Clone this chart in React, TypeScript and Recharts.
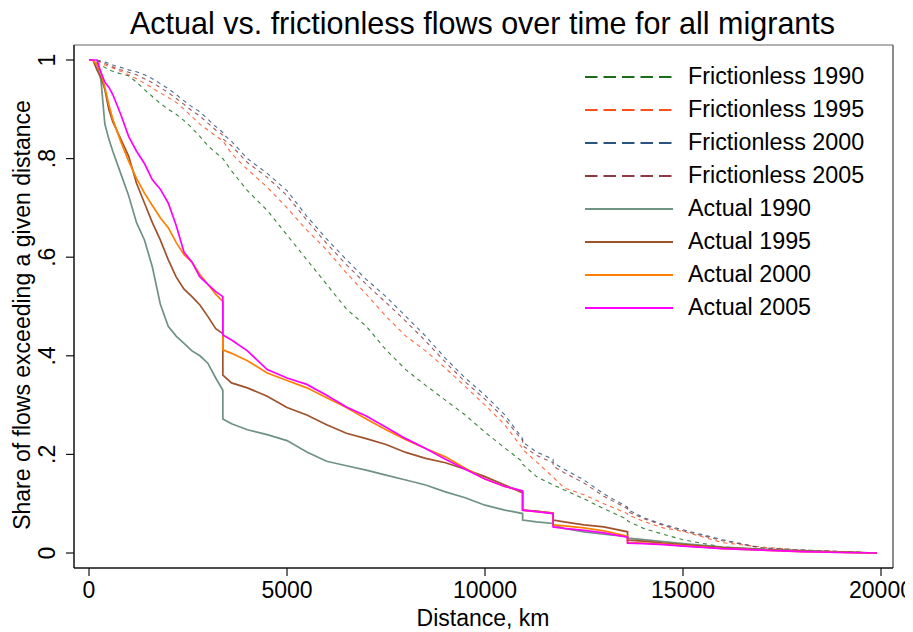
import React from "react";
import { LineChart, Line, XAxis, YAxis, ReferenceLine } from "recharts";

// distances (km); repeated entries mark vertical drops in the step curves
const distances = [
  0, 100, 200, 300, 400, 500, 600, 800, 1000, 1200, 1400, 1600, 1800, 2000,
  2200, 2400, 2600, 2800, 3000, 3200, 3380, 3380, 3600, 4000, 4500, 5000,
  5500, 6000, 6500, 7000, 7500, 8000, 8500, 9000, 9500, 10000, 10500, 10950,
  10950, 11300, 11720, 11720, 12000, 12500, 13000, 13600, 13600, 14000,
  14500, 15000, 16000, 17000, 18000, 19000, 19900,
];

const frictionless1990 = [
  1.0, 1.0, 0.995, 0.99, 0.985, 0.98, 0.977, 0.972, 0.968, 0.955, 0.94,
  0.926, 0.912, 0.9, 0.89, 0.877, 0.862, 0.845, 0.826, 0.812, 0.8, 0.8,
  0.775, 0.735, 0.695, 0.645, 0.595, 0.545, 0.495, 0.46, 0.412, 0.372, 0.34,
  0.31, 0.28, 0.245, 0.213, 0.185, 0.18, 0.155, 0.138, 0.138, 0.128, 0.11,
  0.09, 0.068, 0.065, 0.05, 0.038, 0.027, 0.012, 0.007, 0.004, 0.002, 0.0,
];
const frictionless1995 = [
  1.0, 1.0, 0.998, 0.995, 0.99, 0.987, 0.984, 0.977, 0.97, 0.962, 0.953,
  0.943, 0.933, 0.924, 0.914, 0.9, 0.885, 0.87, 0.858, 0.846, 0.836, 0.836,
  0.81, 0.778, 0.742, 0.7, 0.655, 0.615, 0.568, 0.525, 0.48, 0.44, 0.41,
  0.375, 0.338, 0.3, 0.26, 0.212, 0.21, 0.185, 0.154, 0.154, 0.132, 0.118,
  0.1, 0.08, 0.078, 0.064, 0.051, 0.044, 0.021, 0.012, 0.006, 0.003, 0.0,
];
const frictionless2000 = [
  1.0, 1.0, 1.0, 0.998, 0.996, 0.993, 0.99, 0.985, 0.98, 0.976, 0.97, 0.962,
  0.952, 0.942, 0.93, 0.917, 0.905, 0.895, 0.88, 0.865, 0.853, 0.85, 0.835,
  0.8, 0.77, 0.735, 0.683, 0.637, 0.595, 0.555, 0.52, 0.48, 0.44, 0.395,
  0.355, 0.32, 0.28, 0.232, 0.225, 0.205, 0.19, 0.183, 0.17, 0.148, 0.12,
  0.093, 0.088, 0.072, 0.058, 0.047, 0.027, 0.01, 0.006, 0.003, 0.0,
];
const frictionless2005 = [
  1.0, 1.0, 0.999, 0.996, 0.993, 0.99, 0.986, 0.98, 0.975, 0.97, 0.962,
  0.954, 0.944, 0.934, 0.922, 0.91, 0.897, 0.886, 0.872, 0.858, 0.848, 0.84,
  0.826, 0.792, 0.762, 0.725, 0.675, 0.628, 0.585, 0.545, 0.508, 0.47, 0.43,
  0.387, 0.347, 0.312, 0.272, 0.228, 0.218, 0.198, 0.183, 0.176, 0.163,
  0.142, 0.115, 0.09, 0.084, 0.07, 0.056, 0.045, 0.025, 0.01, 0.006, 0.003,
  0.0,
];
const actual1990 = [
  1.0, 1.0, 0.99, 0.96, 0.87, 0.84, 0.815, 0.77, 0.725, 0.67, 0.635, 0.58,
  0.505, 0.46, 0.44, 0.425, 0.41, 0.4, 0.385, 0.355, 0.33, 0.272, 0.262,
  0.25, 0.24, 0.228, 0.205, 0.186, 0.177, 0.168, 0.158, 0.148, 0.138, 0.124,
  0.112, 0.097, 0.087, 0.08, 0.067, 0.063, 0.06, 0.057, 0.05, 0.043, 0.038,
  0.033, 0.03, 0.027, 0.023, 0.019, 0.012, 0.008, 0.005, 0.002, 0.0,
];
const actual1995 = [
  1.0, 1.0, 0.98, 0.965, 0.94, 0.9, 0.875, 0.84, 0.805, 0.75, 0.71, 0.67,
  0.635, 0.595, 0.56, 0.535, 0.52, 0.503, 0.48, 0.455, 0.445, 0.361, 0.345,
  0.335, 0.318, 0.295, 0.28, 0.26, 0.243, 0.232, 0.22, 0.204, 0.192, 0.183,
  0.17, 0.155, 0.138, 0.122, 0.087, 0.085, 0.081, 0.067, 0.063, 0.057, 0.053,
  0.043, 0.026, 0.024, 0.02, 0.017, 0.011, 0.007, 0.004, 0.002, 0.0,
];
const actual2000 = [
  1.0, 1.0, 0.99, 0.975, 0.945, 0.91, 0.88, 0.835, 0.795, 0.76, 0.73, 0.705,
  0.68, 0.66, 0.63, 0.605, 0.59, 0.565, 0.545, 0.525, 0.51, 0.412, 0.405,
  0.39, 0.365, 0.35, 0.335, 0.315, 0.295, 0.272, 0.25, 0.23, 0.212, 0.195,
  0.172, 0.15, 0.135, 0.126, 0.087, 0.084, 0.081, 0.057, 0.055, 0.051, 0.045,
  0.034, 0.021, 0.02, 0.018, 0.015, 0.009, 0.006, 0.003, 0.001, 0.0,
];
const actual2005 = [
  1.0, 1.0, 1.0, 0.975, 0.955, 0.945, 0.93, 0.89, 0.845, 0.815, 0.79, 0.757,
  0.738, 0.71, 0.665, 0.61, 0.59, 0.56, 0.545, 0.53, 0.52, 0.442, 0.432, 0.41,
  0.372, 0.355, 0.342, 0.32, 0.296, 0.278, 0.255, 0.232, 0.212, 0.19, 0.17,
  0.15, 0.135, 0.126, 0.087, 0.084, 0.08, 0.053, 0.05, 0.046, 0.041, 0.032,
  0.02, 0.019, 0.017, 0.014, 0.009, 0.006, 0.003, 0.001, 0.0,
];

const xTicks = [0, 5000, 10000, 15000, 20000];
const yTicks = [0, 0.2, 0.4, 0.6, 0.8, 1];

const series = [
  { key: "f1990", name: "Frictionless 1990", values: frictionless1990, color: "#1a6e1a", dashed: true },
  { key: "f1995", name: "Frictionless 1995", values: frictionless1995, color: "#ff4f1a", dashed: true },
  { key: "f2000", name: "Frictionless 2000", values: frictionless2000, color: "#2a5580", dashed: true },
  { key: "f2005", name: "Frictionless 2005", values: frictionless2005, color: "#8e3a40", dashed: true },
  { key: "a1990", name: "Actual 1990", values: actual1990, color: "#6f9283", dashed: false },
  { key: "a1995", name: "Actual 1995", values: actual1995, color: "#a0522d", dashed: false },
  { key: "a2000", name: "Actual 2000", values: actual2000, color: "#ff8000", dashed: false },
  { key: "a2005", name: "Actual 2005", values: actual2005, color: "#ff00ff", dashed: false },
];

const data = distances.map((d, i) => {
  const row: Record<string, number> = { d };
  series.forEach((s) => {
    row[s.key] = s.values[i];
  });
  return row;
});

const FONT = "'Liberation Sans', Arial, Helvetica, sans-serif";

const fmtY = (v: number) => {
  if (v === 0) return "0";
  if (v === 1) return "1";
  return v.toFixed(1).replace(/^0/, "");
};

const XTick = ({ x, y, payload }: any) => (
  <text x={x} y={y} dy={22} textAnchor="middle" fontSize={23} fill="#000" fontFamily={FONT}>
    {payload.value}
  </text>
);

const YTick = ({ x, y, payload }: any) => {
  const bx = x - 11;
  return (
    <text
      x={bx}
      y={y}
      transform={`rotate(-90, ${bx}, ${y})`}
      textAnchor="middle"
      fontSize={23}
      fill="#000"
      fontFamily={FONT}
    >
      {fmtY(payload.value)}
    </text>
  );
};

export default function App() {
  const W = 905;
  const H = 624;
  return (
    <div style={{ position: "relative", width: W, height: H, background: "#fff", fontFamily: FONT }}>
      <div
        style={{
          position: "absolute",
          top: 0,
          left: 0,
          width: W,
          textAlign: "center",
          fontSize: 30.5,
          lineHeight: "30px",
          color: "#000",
          paddingLeft: 44,
          boxSizing: "border-box",
          whiteSpace: "nowrap",
        }}
      >
        Actual vs. frictionless flows over time for all migrants
      </div>
      <LineChart width={W} height={H} data={data} margin={{ top: 37, right: 20, left: 0, bottom: 0 }}>
        <XAxis
          dataKey="d"
          type="number"
          domain={[-379, 20303]}
          ticks={xTicks}
          interval={0}
          allowDataOverflow
          tickSize={8}
          tickMargin={0}
          height={64}
          tick={<XTick />}
          axisLine={{ stroke: "#111", strokeWidth: 1.5 }}
          tickLine={{ stroke: "#111", strokeWidth: 1.2 }}
        />
        <YAxis
          type="number"
          domain={[-0.0304, 1.0304]}
          ticks={yTicks}
          interval={0}
          allowDataOverflow
          tickSize={8}
          tickMargin={0}
          width={66}
          tick={<YTick />}
          axisLine={{ stroke: "#111", strokeWidth: 1.5 }}
          tickLine={{ stroke: "#111", strokeWidth: 1.2 }}
        />
        <ReferenceLine y={1.0304} stroke="#666" strokeWidth={1.2} />
        <ReferenceLine x={20303} stroke="#666" strokeWidth={1.5} />
        {series.map((s) => (
          <Line
            key={s.key}
            dataKey={s.key}
            name={s.name}
            type="linear"
            stroke={s.color}
            strokeWidth={s.dashed ? 1.1 : 1.7}
            strokeDasharray={s.dashed ? "4 4" : undefined}
            strokeOpacity={s.dashed ? 0.85 : 1}
            dot={false}
            activeDot={false}
            isAnimationActive={false}
          />
        ))}
      </LineChart>
      <div
        style={{
          position: "absolute",
          left: 14,
          top: 307,
          transform: "translate(-50%, -50%) rotate(-90deg)",
          whiteSpace: "nowrap",
          fontSize: 23,
          color: "#000",
        }}
      >
        Share of flows exceeding a given distance
      </div>
      <div
        style={{
          position: "absolute",
          left: 475,
          top: 610,
          transform: "translate(-50%, -50%)",
          whiteSpace: "nowrap",
          fontSize: 23,
          color: "#000",
        }}
      >
        Distance, km
      </div>
      <div style={{ position: "absolute", left: 577, top: 52 }}>
        {series.map((s) => (
          <div key={s.key} style={{ display: "flex", alignItems: "center", height: 33 }}>
            <svg width={88} height={6} style={{ display: "block" }}>
              <line
                x1={0}
                y1={3}
                x2={88}
                y2={3}
                stroke={s.color}
                strokeWidth={2}
                strokeDasharray={s.dashed ? "12.5 6" : undefined}
              />
            </svg>
            <span style={{ marginLeft: 15, fontSize: 23.3, color: "#000", whiteSpace: "nowrap" }}>{s.name}</span>
          </div>
        ))}
      </div>
    </div>
  );
}
